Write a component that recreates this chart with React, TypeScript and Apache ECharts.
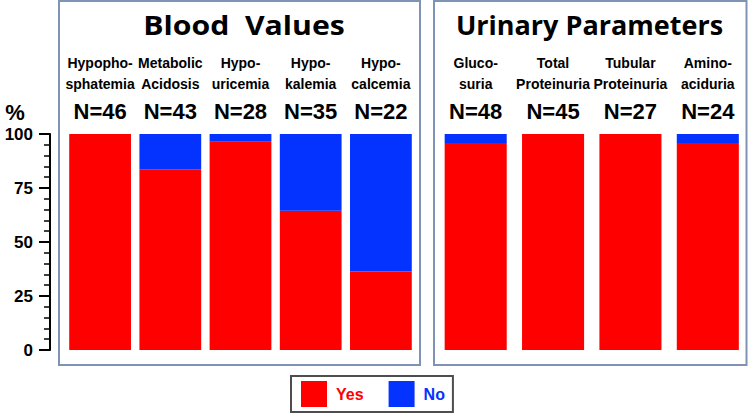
import React, { useEffect, useRef } from 'react';
import * as echarts from 'echarts';

const bloodCategories = ['Hypopho-\nsphatemia', 'Metabolic\nAcidosis', 'Hypo-\nuricemia', 'Hypo-\nkalemia', 'Hypo-\ncalcemia'];
const bloodN = [46, 43, 28, 35, 22];
const bloodYes = [100, 83.7, 96.4, 64.5, 36.4];
const bloodNo = [0, 16.3, 3.6, 35.5, 63.6];

const urineCategories = ['Gluco-\nsuria', 'Total\nProteinuria', 'Tubular\nProteinuria', 'Amino-\naciduria'];
const urineN = [48, 45, 27, 24];
const urineYes = [95.8, 100, 100, 95.8];
const urineNo = [4.2, 0, 0, 4.2];

const yTicks = [0, 25, 50, 75, 100];
const panelTitles = ['Blood  Values', 'Urinary Parameters'];
const legendNames = ['Yes', 'No'];

const SANS = '"Liberation Sans", Arial, Helvetica, sans-serif';
const TITLE_FONT = '"Open Sans", "Noto Sans", sans-serif';
const RED = '#FF0000';
const BLUE = '#0433FF';
const PANEL = '#7f93b5';

function makeFormatter(ns: number[]) {
  return (value: string, idx: number) =>
    value.split('\n').map((l) => `{c|${l}}`).join('\n') + `\n{n|N=${ns[idx]}}`;
}

const labelRich = {
  c: { fontSize: 14, fontWeight: 'bold', fontFamily: SANS, color: '#000', lineHeight: 21 },
  n: { fontSize: 22, fontWeight: 'bold', fontFamily: SANS, color: '#000', lineHeight: 35 },
};

export default function App() {
  const ref = useRef<HTMLDivElement>(null);
  useEffect(() => {
    if (!ref.current) return;
    const chart = echarts.init(ref.current, undefined, { renderer: 'svg' });
    const yMin = yTicks[0];
    const yMax = yTicks[yTicks.length - 1];
    const yInt = yTicks[1] - yTicks[0];
    const xAxisBase = (gridIndex: number, data: string[], ns: number[]) => ({
      gridIndex,
      type: 'category',
      position: 'top',
      data,
      axisLine: { show: false },
      axisTick: { show: false },
      splitLine: { show: false },
      axisLabel: { interval: 0, margin: 5, formatter: makeFormatter(ns), rich: labelRich },
    });
    chart.setOption({
      animation: false,
      backgroundColor: '#ffffff',
      grid: [
        { left: 65, top: 134, width: 351, height: 216 },
        { left: 437, top: 134, width: 309.5, height: 216 },
      ],
      xAxis: [xAxisBase(0, bloodCategories, bloodN), xAxisBase(1, urineCategories, urineN)],
      yAxis: [
        {
          gridIndex: 0,
          type: 'value',
          min: yMin,
          max: yMax,
          interval: yInt,
          offset: 15,
          axisLine: { show: true, lineStyle: { color: '#000', width: 2 } },
          axisTick: { show: true, length: 11, lineStyle: { color: '#000', width: 2 } },
          minorTick: { show: true, splitNumber: 5, length: 6, lineStyle: { color: '#000', width: 1.5 } },
          splitLine: { show: false },
          axisLabel: { margin: 17, fontSize: 17, fontWeight: 'bold', color: '#000', fontFamily: SANS },
        },
        {
          gridIndex: 1,
          type: 'value',
          min: yMin,
          max: yMax,
          interval: yInt,
          show: false,
          splitLine: { show: false },
        },
      ],
      legend: {
        left: 291,
        top: 376,
        orient: 'horizontal',
        itemWidth: 26,
        itemHeight: 26,
        itemGap: 25,
        padding: [5, 8, 5, 10],
        borderColor: '#4d4d4d',
        borderWidth: 2,
        icon: 'rect',
        selectedMode: false,
        data: [
          { name: legendNames[0], textStyle: { color: RED } },
          { name: legendNames[1], textStyle: { color: BLUE } },
        ],
        textStyle: { fontSize: 16, fontWeight: 'bold', fontFamily: SANS, padding: [0, 0, 0, 4] },
      },
      series: [
        { name: legendNames[0], type: 'bar', stack: 'blood', xAxisIndex: 0, yAxisIndex: 0, data: bloodYes, barCategoryGap: '12%', itemStyle: { color: RED } },
        { name: legendNames[1], type: 'bar', stack: 'blood', xAxisIndex: 0, yAxisIndex: 0, data: bloodNo, barCategoryGap: '12%', itemStyle: { color: BLUE } },
        { name: legendNames[0], type: 'bar', stack: 'urine', xAxisIndex: 1, yAxisIndex: 1, data: urineYes, barCategoryGap: '19.8%', itemStyle: { color: RED } },
        { name: legendNames[1], type: 'bar', stack: 'urine', xAxisIndex: 1, yAxisIndex: 1, data: urineNo, barCategoryGap: '19.8%', itemStyle: { color: BLUE } },
      ],
      graphic: [
        { type: 'rect', z: -1, shape: { x: 59, y: 1, width: 361, height: 364 }, style: { fill: 'none', stroke: PANEL, lineWidth: 2 } },
        { type: 'rect', z: -1, shape: { x: 434, y: 1, width: 312.5, height: 364 }, style: { fill: 'none', stroke: PANEL, lineWidth: 2 } },
        { type: 'text', x: 244, y: 24, scaleX: 1.12, style: { text: panelTitles[0], fontSize: 27, fontWeight: 'bold', fontFamily: TITLE_FONT, fill: '#000', align: 'center', verticalAlign: 'middle' } },
        { type: 'text', x: 589.5, y: 24, style: { text: panelTitles[1], fontSize: 27, fontWeight: 'bold', fontFamily: TITLE_FONT, fill: '#000', align: 'center', verticalAlign: 'middle' } },
        { type: 'text', x: 15, y: 112, style: { text: '%', fontSize: 22, fontWeight: 'bold', fontFamily: SANS, fill: '#000', align: 'center', verticalAlign: 'middle' } },
      ],
    });
    return () => chart.dispose();
  }, []);
  return <div ref={ref} style={{ width: 750, height: 413, position: 'absolute', left: 0, top: 0 }} />;
}
